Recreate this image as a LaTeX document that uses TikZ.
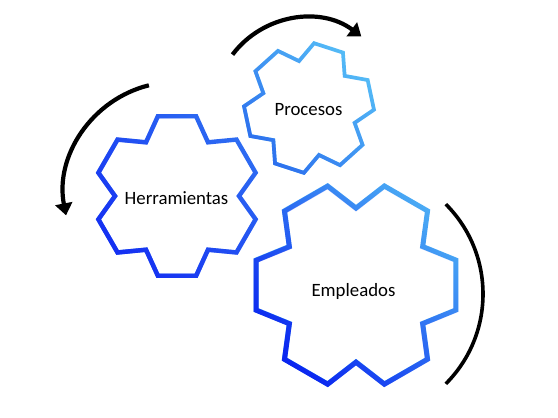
\documentclass[tikz,border=0pt]{standalone}
\usepackage{fontspec}
\setmainfont{Carlito}
\usetikzlibrary{arrows.meta,fadings}
\tikzfading[name=gfade, left color=transparent!0, right color=transparent!100]
\definecolor{hdark}{HTML}{1530F2}
\definecolor{hlight}{HTML}{2E6CF2}
\definecolor{pdark}{HTML}{2D6EEE}
\definecolor{plight}{HTML}{55BDF7}
\definecolor{edark}{HTML}{0A25F0}
\definecolor{elight}{HTML}{4AAAF5}
\newcommand{\mygearpath}[4]{% offset, half, R, r
  ({#1-#2}:#3pt) \foreach \k in {0,...,5} { -- ({#1+60*\k-#2}:#3pt) -- ({#1+60*\k+#2}:#3pt) -- ({#1+60*\k+30}:#4pt) } -- cycle}
\newcommand{\mygear}[9]{% cx, cy, R, r, offset, half, lw, dark, light
  \begin{scope}[shift={(#1,#2)}]
    \draw[#9, line width=#7, line join=miter] \mygearpath{#5}{#6}{#3}{#4};
    \draw[#8, line width=#7, line join=miter, path fading=gfade, fading angle=45] \mygearpath{#5}{#6}{#3}{#4};
  \end{scope}}
\begin{document}
\begin{tikzpicture}[x=1pt,y=1pt,
  lbl/.style={anchor=base, font=\fontsize{18.8}{22}\selectfont, text=black, inner sep=0pt},
  rot/.style={black, line width=4.2pt},
  rottip/.style={rot, -{Triangle[width=17pt,length=12pt]}}]
\useasboundingbox (0,0) rectangle (558,418);
% gears
\mygear{177}{222}{82}{62}{30}{13.5}{4.4pt}{hdark}{hlight}
\mygear{309}{310}{65}{48}{12}{13.5}{3.7pt}{pdark}{plight}
\mygear{356}{133}{103}{77}{0}{14}{5pt}{edark}{elight}
% labels
\node[lbl] (herr) at (176.5,213) {Herramientas};
\node[lbl] (proc) at (308.5,302) {Procesos};
\node[lbl] (empl) at (353.5,121.5) {Empleados};
% rotation arrows
\coordinate (topstart) at (232.5,363.4);
\coordinate (leftstart) at (148.9,332.7);
\coordinate (rightstart) at (445.8,213.8);
\draw[rottip] (topstart) arc[start angle=143, end angle=53, radius=92pt];
\draw[rottip] (leftstart) arc[start angle=104, end angle=191, radius=112pt];
\draw[rot, line width=3.6pt] (rightstart) arc[start angle=45, end angle=-45, radius=127pt];
\end{tikzpicture}
\end{document}
